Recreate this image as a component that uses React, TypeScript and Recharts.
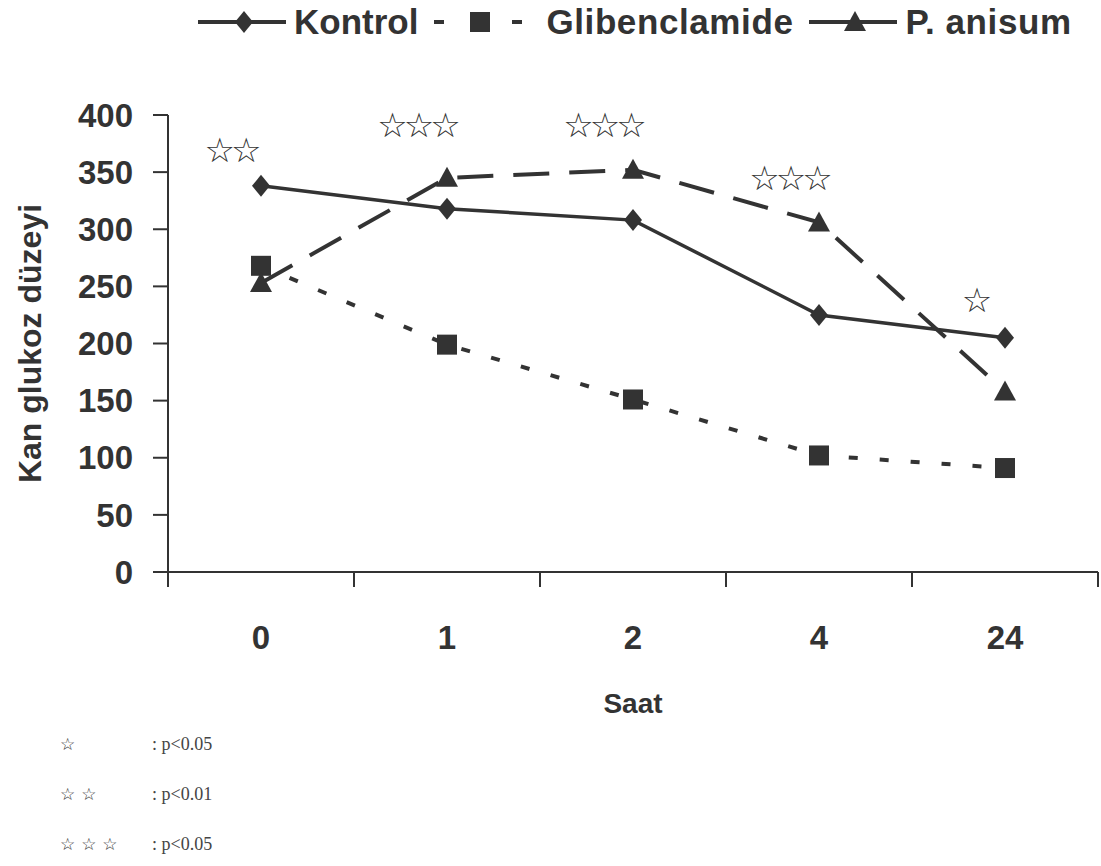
import { LineChart, Line, XAxis, YAxis, Legend } from 'recharts';

// blood glucose per hour
const hours = ['0', '1', '2', '4', '24'];
const kontrol = [338, 318, 308, 225, 205];
const glibenclamide = [268, 199, 151, 102, 91];
const anisum = [253, 345, 352, 306, 158];

// significance marks drawn above each hour
const starMarks = ['☆☆', '☆☆☆', '☆☆☆', '☆☆☆', '☆'];
const starLevels = [369, 391, 391, 345, 238];

const yTicks = [0, 50, 100, 150, 200, 250, 300, 350, 400];

const footnoteStars = ['☆', '☆ ☆', '☆ ☆ ☆'];
const footnoteTexts = [': p<0.05', ': p<0.01', ': p<0.05'];

const data = hours.map((hour, i) => ({
  hour,
  kontrol: kontrol[i],
  glibenclamide: glibenclamide[i],
  anisum: anisum[i],
  star: starLevels[i],
}));

const INK = '#333';
const SANS = '"Liberation Sans", Arial, sans-serif';
const BAND = 186;

const Diamond = ({ cx, cy }: any) =>
  cx == null ? null : (
    <path d={`M${cx},${cy - 11} L${cx + 9},${cy} L${cx},${cy + 11} L${cx - 9},${cy} Z`} fill={INK} />
  );

const Square = ({ cx, cy }: any) =>
  cx == null ? null : <rect x={cx - 10} y={cy - 10} width={20} height={20} fill={INK} />;

const Triangle = ({ cx, cy }: any) =>
  cx == null ? null : (
    <path d={`M${cx},${cy - 11} L${cx + 11},${cy + 9} L${cx - 11},${cy + 9} Z`} fill={INK} />
  );

const HourTick = ({ x, y, payload, index }: any) => (
  <g>
    <line x1={x - BAND / 2} x2={x - BAND / 2} y1={y} y2={y + 15} stroke={INK} strokeWidth={2} />
    {index === hours.length - 1 && (
      <line x1={x + BAND / 2} x2={x + BAND / 2} y1={y} y2={y + 15} stroke={INK} strokeWidth={2} />
    )}
    <text
      x={x}
      y={y + 65}
      textAnchor="middle"
      dominantBaseline="central"
      fontSize={33}
      fontWeight="bold"
      fontFamily={SANS}
      fill={INK}
    >
      {payload.value}
    </text>
  </g>
);

const StarLabel = ({ x, y, index }: any) => (
  <text
    x={x - 30}
    y={y}
    textAnchor="middle"
    dominantBaseline="central"
    fontSize={34}
    fontWeight="bold"
    letterSpacing={-4}
    fontFamily="DejaVu Sans"
    fill={INK}
  >
    {starMarks[index]}
  </text>
);

const YTitle = ({ viewBox }: any) => {
  const cx = viewBox.x + 30;
  const cy = viewBox.y + viewBox.height / 2;
  return (
    <text
      x={cx}
      y={cy}
      transform={`rotate(-90 ${cx} ${cy})`}
      textAnchor="middle"
      dominantBaseline="central"
      fontSize={32}
      fontWeight="bold"
      fontFamily={SANS}
      fill={INK}
    >
      Kan glukoz düzeyi
    </text>
  );
};

const XTitle = ({ viewBox }: any) => (
  <text
    x={viewBox.x + viewBox.width / 2}
    y={viewBox.y + 131}
    textAnchor="middle"
    dominantBaseline="central"
    fontSize={28}
    fontWeight="bold"
    fontFamily={SANS}
    fill={INK}
  >
    Saat
  </text>
);

const legendItems = [
  { name: 'Kontrol', dash: undefined, Marker: Diamond },
  { name: 'Glibenclamide', dash: '10 68', Marker: Square },
  { name: 'P. anisum', dash: undefined, Marker: Triangle },
];

const LegendContent = () => (
  <div style={{ display: 'flex', alignItems: 'center', height: 44, paddingLeft: 198 }}>
    {legendItems.map(({ name, dash, Marker }) => (
      <div key={name} style={{ display: 'flex', alignItems: 'center', marginRight: 16 }}>
        <svg width={92} height={40}>
          <line x1={0} x2={88} y1={20} y2={20} stroke={INK} strokeWidth={4} strokeDasharray={dash} />
          <Marker cx={46} cy={20} />
        </svg>
        <span
          style={{
            fontFamily: SANS,
            fontWeight: 'bold',
            fontSize: 35,
            color: INK,
            marginLeft: name === 'Glibenclamide' ? 20 : 4,
            letterSpacing: name === 'Kontrol' ? 0 : 0.6,
          }}
        >
          {name}
        </span>
      </div>
    ))}
  </div>
);

export default function App() {
  return (
    <div style={{ position: 'absolute', left: 0, top: 0, width: 1101, height: 866, background: '#fff' }}>
      <LineChart width={1101} height={866} data={data} margin={{ top: 71, right: 3, left: 0, bottom: 194 }}>
        <Legend
          verticalAlign="top"
          align="left"
          height={44}
          wrapperStyle={{ top: 0, left: 0 }}
          content={<LegendContent />}
        />
        <XAxis
          dataKey="hour"
          height={100}
          interval={0}
          padding={{ left: BAND / 2, right: BAND / 2 }}
          tickLine={false}
          tickSize={0}
          tickMargin={0}
          axisLine={{ stroke: INK, strokeWidth: 2 }}
          tick={<HourTick />}
          label={<XTitle />}
        />
        <YAxis
          width={168}
          domain={[0, 400]}
          ticks={yTicks}
          interval={0}
          tickSize={15}
          tickMargin={20}
          axisLine={{ stroke: INK, strokeWidth: 2 }}
          tickLine={{ stroke: INK, strokeWidth: 2 }}
          tick={{ fontSize: 33, fontWeight: 'bold', fill: INK, fontFamily: SANS }}
          label={<YTitle />}
        />
        <Line
          dataKey="kontrol"
          stroke={INK}
          strokeWidth={3.5}
          dot={<Diamond />}
          activeDot={false}
          isAnimationActive={false}
        />
        <Line
          dataKey="glibenclamide"
          stroke={INK}
          strokeWidth={4}
          strokeDasharray="9 22"
          dot={<Square />}
          activeDot={false}
          isAnimationActive={false}
        />
        <Line
          dataKey="anisum"
          stroke={INK}
          strokeWidth={4}
          strokeDasharray="36 20"
          dot={<Triangle />}
          activeDot={false}
          isAnimationActive={false}
        />
        <Line
          dataKey="star"
          stroke="none"
          dot={false}
          activeDot={false}
          label={<StarLabel />}
          isAnimationActive={false}
        />
      </LineChart>
      {footnoteStars.map((s, i) => (
        <div key={i} style={{ position: 'absolute', top: 731 + i * 50, left: 60, height: 26, display: 'flex', alignItems: 'center' }}>
          <span style={{ width: 92, fontFamily: 'DejaVu Sans', fontWeight: 'bold', fontSize: 17, color: '#333' }}>{s}</span>
          <span style={{ fontFamily: '"Liberation Serif", serif', fontSize: 18, color: '#444' }}>{footnoteTexts[i]}</span>
        </div>
      ))}
    </div>
  );
}
